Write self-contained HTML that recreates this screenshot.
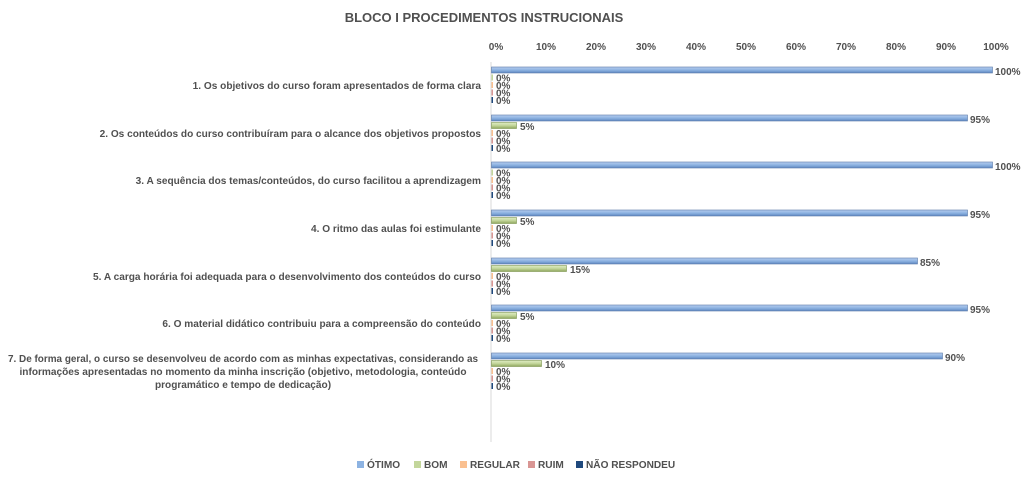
<!DOCTYPE html>
<html><head><meta charset="utf-8"><style>
body{margin:0;background:#fff;}
svg text{font-family:"Liberation Sans",sans-serif;font-weight:bold;fill:#505050;}
</style></head><body>
<svg width="1024" height="482" xmlns="http://www.w3.org/2000/svg">
<defs>
<linearGradient id="g0" x1="0" y1="0" x2="0" y2="1"><stop offset="0" stop-color="#b7cdef"/><stop offset="0.5" stop-color="#8db3e2"/><stop offset="1" stop-color="#5f86c0"/></linearGradient>
<linearGradient id="g1" x1="0" y1="0" x2="0" y2="1"><stop offset="0" stop-color="#e0ecc4"/><stop offset="0.5" stop-color="#c3d69b"/><stop offset="1" stop-color="#8fa65d"/></linearGradient>
<g id="z">
<rect x="491.5" y="15" width="1.5" height="6" fill="#fac090"/><text x="496" y="22" font-size="10">0%</text>
<rect x="491.5" y="22.5" width="1.5" height="6" fill="#d99694"/><text x="496" y="29.5" font-size="10">0%</text>
<rect x="491.5" y="30" width="1.5" height="6" fill="#1f497d"/><text x="496" y="37" font-size="10">0%</text>
</g>
</defs>
<text x="484" y="22" font-size="13" text-anchor="middle">BLOCO I PROCEDIMENTOS INSTRUCIONAIS</text>
<g font-size="10" text-anchor="middle">
<text x="496" y="50">0%</text><text x="546" y="50">10%</text><text x="596" y="50">20%</text><text x="646" y="50">30%</text><text x="696" y="50">40%</text><text x="746" y="50">50%</text><text x="796" y="50">60%</text><text x="846" y="50">70%</text><text x="896" y="50">80%</text><text x="946" y="50">90%</text><text x="996" y="50">100%</text>
</g>
<line x1="491" y1="62" x2="491" y2="442" stroke="#d9d9d9"/>
<g font-size="10" stroke-width="0.6">
<rect x="491.5" y="67" width="501" height="6" fill="url(#g0)" stroke="#5a7aa8"/><text x="995" y="75">100%</text>
<rect x="491.5" y="74.5" width="1.5" height="6" fill="#c3d69b"/><text x="496" y="81.5">0%</text>
<use href="#z" y="67"/>
<rect x="491.5" y="115" width="476" height="6" fill="url(#g0)" stroke="#5a7aa8"/><text x="970" y="123">95%</text>
<rect x="491.5" y="122.5" width="25" height="6" fill="url(#g1)" stroke="#7d9650"/><text x="520" y="130">5%</text>
<use href="#z" y="115"/>
<rect x="491.5" y="162" width="501" height="6" fill="url(#g0)" stroke="#5a7aa8"/><text x="995" y="170">100%</text>
<rect x="491.5" y="169.5" width="1.5" height="6" fill="#c3d69b"/><text x="496" y="176.5">0%</text>
<use href="#z" y="162"/>
<rect x="491.5" y="210" width="476" height="6" fill="url(#g0)" stroke="#5a7aa8"/><text x="970" y="218">95%</text>
<rect x="491.5" y="217.5" width="25" height="6" fill="url(#g1)" stroke="#7d9650"/><text x="520" y="225">5%</text>
<use href="#z" y="210"/>
<rect x="491.5" y="258" width="426" height="6" fill="url(#g0)" stroke="#5a7aa8"/><text x="920" y="266">85%</text>
<rect x="491.5" y="265.5" width="75" height="6" fill="url(#g1)" stroke="#7d9650"/><text x="570" y="273">15%</text>
<use href="#z" y="258"/>
<rect x="491.5" y="305" width="476" height="6" fill="url(#g0)" stroke="#5a7aa8"/><text x="970" y="313">95%</text>
<rect x="491.5" y="312.5" width="25" height="6" fill="url(#g1)" stroke="#7d9650"/><text x="520" y="320">5%</text>
<use href="#z" y="305"/>
<rect x="491.5" y="353" width="451" height="6" fill="url(#g0)" stroke="#5a7aa8"/><text x="945" y="361">90%</text>
<rect x="491.5" y="360.5" width="50" height="6" fill="url(#g1)" stroke="#7d9650"/><text x="545" y="368">10%</text>
<use href="#z" y="353"/>
</g>
<g font-size="10.1" text-anchor="end">
<text x="481" y="89">1. Os objetivos do curso foram apresentados de forma clara</text>
<text x="481" y="137">2. Os conteúdos do curso contribuíram para o alcance dos objetivos propostos</text>
<text x="481" y="184">3. A sequência dos temas/conteúdos, do curso facilitou a aprendizagem</text>
<text x="481" y="232">4. O ritmo das aulas foi estimulante</text>
<text x="481" y="280">5. A carga horária foi adequada para o desenvolvimento dos conteúdos do curso</text>
<text x="481" y="327">6. O material didático contribuiu para a compreensão do conteúdo</text>
</g>
<g font-size="10.1" text-anchor="middle">
<text x="243" y="362" textLength="470" lengthAdjust="spacingAndGlyphs">7. De forma geral, o curso se desenvolveu de acordo com as minhas expectativas, considerando as</text>
<text x="243" y="375">informações apresentadas no momento da minha inscrição (objetivo, metodologia, conteúdo</text>
<text x="243" y="388">programático e tempo de dedicação)</text>
</g>
<g font-size="10.1">
<rect x="357" y="461" width="7" height="7" fill="#8db3e2"/><text x="367" y="468">ÓTIMO</text>
<rect x="414" y="461" width="7" height="7" fill="#c3d69b"/><text x="424" y="468">BOM</text>
<rect x="460" y="461" width="7" height="7" fill="#fac090"/><text x="470" y="468">REGULAR</text>
<rect x="528" y="461" width="7" height="7" fill="#d99694"/><text x="538" y="468">RUIM</text>
<rect x="576" y="461" width="7" height="7" fill="#1f497d"/><text x="586" y="468">NÃO RESPONDEU</text>
</g>
</svg>
</body></html>
